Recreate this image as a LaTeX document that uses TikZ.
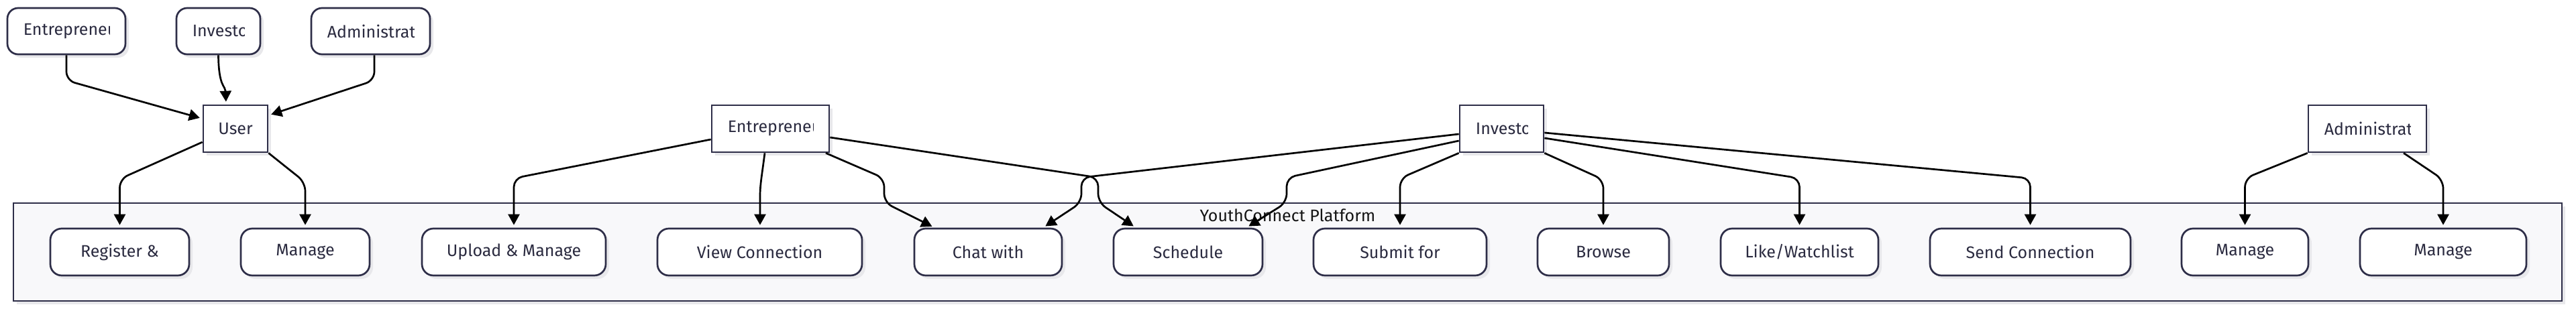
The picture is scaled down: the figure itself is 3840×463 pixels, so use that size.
\documentclass[tikz,border=0pt]{standalone}
\usepackage{fontspec}
\setmainfont{Fira Sans}
\usetikzlibrary{arrows.meta,shadows}
\definecolor{strokec}{HTML}{2E2E48}
\definecolor{textc}{HTML}{2B2B40}
\definecolor{clusterfill}{HTML}{F8F8FA}
\definecolor{shadowc}{HTML}{E8E8EB}
\definecolor{titlec}{HTML}{151515}
\newcommand{\cliplabel}[2]{%
  \begin{scope}
    \clip ([xshift=25pt]#1.south west) rectangle ([xshift=-25pt]#1.north east);
    \node[lbl, anchor=west] at ([xshift=25pt]#1.west) {#2};
  \end{scope}}
\begin{document}
\begin{tikzpicture}[x=1pt,y=-1pt,
  shadowed/.style={drop shadow={shadow xshift=5pt,shadow yshift=-5pt,fill=shadowc,opacity=1}},
  actor/.style={draw=strokec, line width=2.7pt, fill=white, shadowed, minimum height=70pt, inner sep=0pt, text=textc, font=\fontsize{25}{30}\selectfont},
  role/.style={actor, rounded corners=16pt, minimum height=69pt},
  usecase/.style={draw=strokec, line width=2.7pt, fill=white, shadowed, rounded corners=17pt, minimum height=70pt, inner sep=0pt, text=textc, font=\fontsize{25}{30}\selectfont},
  lbl/.style={inner sep=0pt, text=textc, font=\fontsize{25}{30}\selectfont},
  edge/.style={draw=black, line width=2.7pt, rounded corners=13pt, -{Triangle[length=16pt,width=17pt]}, shorten >=4pt},
  cluster/.style={draw=strokec, line width=2.7pt, fill=clusterfill, shadowed, inner sep=0pt}
]
\useasboundingbox (0,0) rectangle (3840,463);
\fill[white] (0,0) rectangle (3840,463);

% cluster
\node[cluster, minimum width=3799pt, minimum height=146pt] (plat) at (1919.5,376) {};
\node[inner sep=0pt, text=titlec, font=\fontsize{25}{30}\selectfont] (title) at (1919.5,321) {YouthConnect Platform};

% top row roles
\node[role, minimum width=176pt] (te) at (99,46.5) {};
\node[role, minimum width=125pt] (ti) at (325.5,46.5) {};
\node[role, minimum width=177pt] (ta) at (552.5,46.5) {};
\cliplabel{te}{Entrepreneur}
\cliplabel{ti}{Investor}
\cliplabel{ta}{Administrator}

% user
\node[actor, minimum width=96pt] (user) at (351,192) {User};

% second row actors
\node[actor, minimum width=175pt] (e2) at (1148.5,192) {};
\node[actor, minimum width=125pt] (i2) at (2238.5,192) {};
\node[actor, minimum width=176pt] (a2) at (3529,192) {};
\cliplabel{e2}{Entrepreneur}
\cliplabel{i2}{Investor}
\cliplabel{a2}{Administrator}

% use cases
\node[usecase, minimum width=207pt] (b1) at (178.5,376) {Register \&};
\node[usecase, minimum width=192pt] (b2) at (455,376) {Manage};
\node[usecase, minimum width=274pt] (b3) at (766,376) {Upload \& Manage};
\node[usecase, minimum width=305pt] (b4) at (1132.5,376) {View Connection};
\node[usecase, minimum width=220pt] (b5) at (1473,376) {Chat with};
\node[usecase, minimum width=222pt] (b6) at (1771,376) {Schedule};
\node[usecase, minimum width=258pt] (b7) at (2087,376) {Submit for};
\node[usecase, minimum width=196pt] (b8) at (2390,376) {Browse};
\node[usecase, minimum width=235pt] (b9) at (2682.5,376) {Like/Watchlist};
\node[usecase, minimum width=299pt] (b10) at (3026.5,376) {Send Connection};
\node[usecase, minimum width=189pt] (b11) at (3346.5,376) {Manage};
\node[usecase, minimum width=248pt] (b12) at (3642,376) {Manage};

% edges
\draw[edge] (te.south) -- (99,120) -- (user.west |- 0,177);
\draw[edge] (ti.south) .. controls (326,130) and (336,128) .. (user.north -| 337,0);
\draw[edge] (ta.south -| 558,0) -- (558,120) -- (user.east |- 0,172);
\draw[edge] (user.west |- 0,212) -- (178.5,267) -- (b1.north);
\draw[edge] (user.south east) -- (455,272) -- (b2.north);
\draw[edge] (e2.west |- 0,208) -- (766,266) -- (b3.north);
\draw[edge] (e2.south -| 1140,0) .. controls (1136,260) and (1133,275) .. (1133,305) -- (b4.north -| 1133,0);
\draw[edge] (e2.south -| 1231,0) -- (1318,266) -- (1318,302) -- (b5.north -| 1393,0);
\draw[edge] (e2.east |- 0,205) -- (1637,265) -- (1637,302) -- (b6.north -| 1693,0);
\draw[edge] (i2.west |- 0,200) -- (1612,265) -- (1612,302) -- (b5.north -| 1555,0);
\draw[edge] (i2.west |- 0,210) -- (1918,265) -- (1918,302) -- (b6.north -| 1858,0);
\draw[edge] (i2.south west) -- (2087,266) -- (b7.north);
\draw[edge] (i2.south east) -- (2390,268) -- (b8.north);
\draw[edge] (i2.east |- 0,206) -- (2682.5,266) -- (b9.north);
\draw[edge] (i2.east |- 0,198) -- (3026.5,266) -- (b10.north);
\draw[edge] (a2.south west) -- (3346.5,266) -- (b11.north);
\draw[edge] (a2.south -| 3583,0) -- (3642,268) -- (b12.north);
\end{tikzpicture}
\end{document}
